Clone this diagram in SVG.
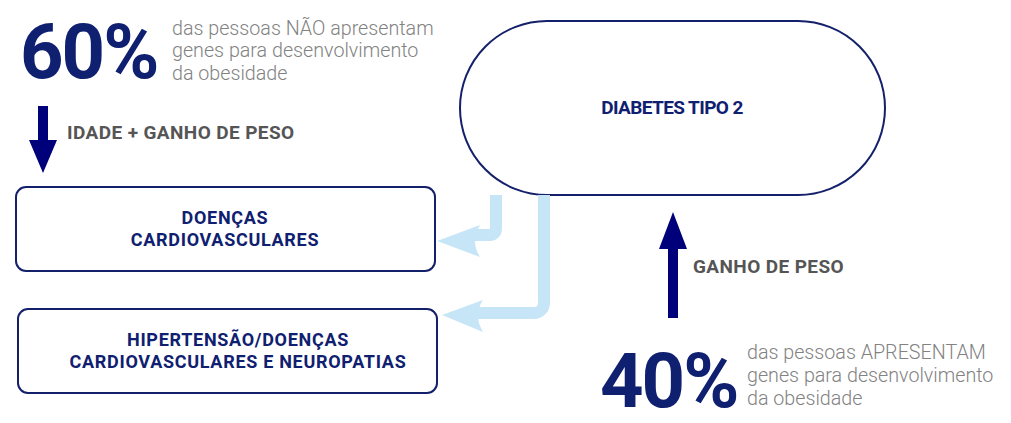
<svg xmlns="http://www.w3.org/2000/svg" width="1011" height="423" viewBox="0 0 1011 423">
<style>
.node{fill:#fff;stroke:#15206b;stroke-width:2}
.lbl{font-family:Roboto,"Liberation Sans",sans-serif;font-weight:700;fill:#0f2070;text-anchor:middle}
.bx{font-size:18px;letter-spacing:0.7px}
.big{font-family:Roboto,"Liberation Sans",sans-serif;font-weight:700;fill:#0f2070;font-size:76px;letter-spacing:-2px}
.small{font-family:Roboto,"Liberation Sans",sans-serif;font-weight:300;fill:#828282;font-size:19.7px}
.hdr{font-family:Roboto,"Liberation Sans",sans-serif;font-weight:700;fill:#555;font-size:19px;letter-spacing:0.4px}
.lb{fill:none;stroke:#c6e6f7;stroke-width:12}
.lbh{fill:#c6e6f7}
.nav{fill:#00007a}
</style>
<g id="texts">
<text class="big" x="20" y="78">60%</text>
<text class="small" x="172" y="35">das pessoas NÃO apresentam</text>
<text class="small" x="172" y="57">genes para desenvolvimento</text>
<text class="small" x="172" y="80">da obesidade</text>
<text class="hdr" x="67" y="139">IDADE + GANHO DE PESO</text>
<text class="hdr" x="693" y="273">GANHO DE PESO</text>
<text class="big" x="600" y="407">40%</text>
<text class="small" x="747" y="359">das pessoas APRESENTAM</text>
<text class="small" x="747" y="382">genes para desenvolvimento</text>
<text class="small" x="747" y="405">da obesidade</text>
</g>
<g id="diabetes">
<rect class="node" x="460" y="21" width="425" height="174" rx="87"/>
<text class="lbl" x="672" y="114" font-size="19" letter-spacing="-0.6">DIABETES TIPO 2</text>
</g>
<g id="doencas">
<rect class="node" x="16" y="187" width="419" height="84" rx="10"/>
<text class="lbl bx" x="225" y="224">DOENÇAS</text>
<text class="lbl bx" x="225" y="246">CARDIOVASCULARES</text>
</g>
<g id="hipertensao">
<rect class="node" x="18" y="309" width="419" height="84" rx="10"/>
<text class="lbl bx" x="238" y="346">HIPERTENSÃO/DOENÇAS</text>
<text class="lbl bx" x="238" y="368">CARDIOVASCULARES E NEUROPATIAS</text>
</g>
<g id="connectors">
<rect class="nav" x="38" y="106" width="10" height="36"/>
<polygon class="nav" points="29,140 57,140 43,173"/>
<rect class="nav" x="668" y="246" width="10" height="72"/>
<polygon class="nav" points="659,249 687,249 673,212"/>
<path class="lb" d="M496,195 V229 A6,6 0 0 1 490,235 H470"/>
<path class="lbh" d="M437,241 L480,225 Q470,241 480,257 Z"/>
<path class="lb" d="M544,195 V303 A10,10 0 0 1 534,313 H475"/>
<path class="lbh" d="M442,315 L483,300 Q473,315 483,332 Z"/>
</g>
</svg>
